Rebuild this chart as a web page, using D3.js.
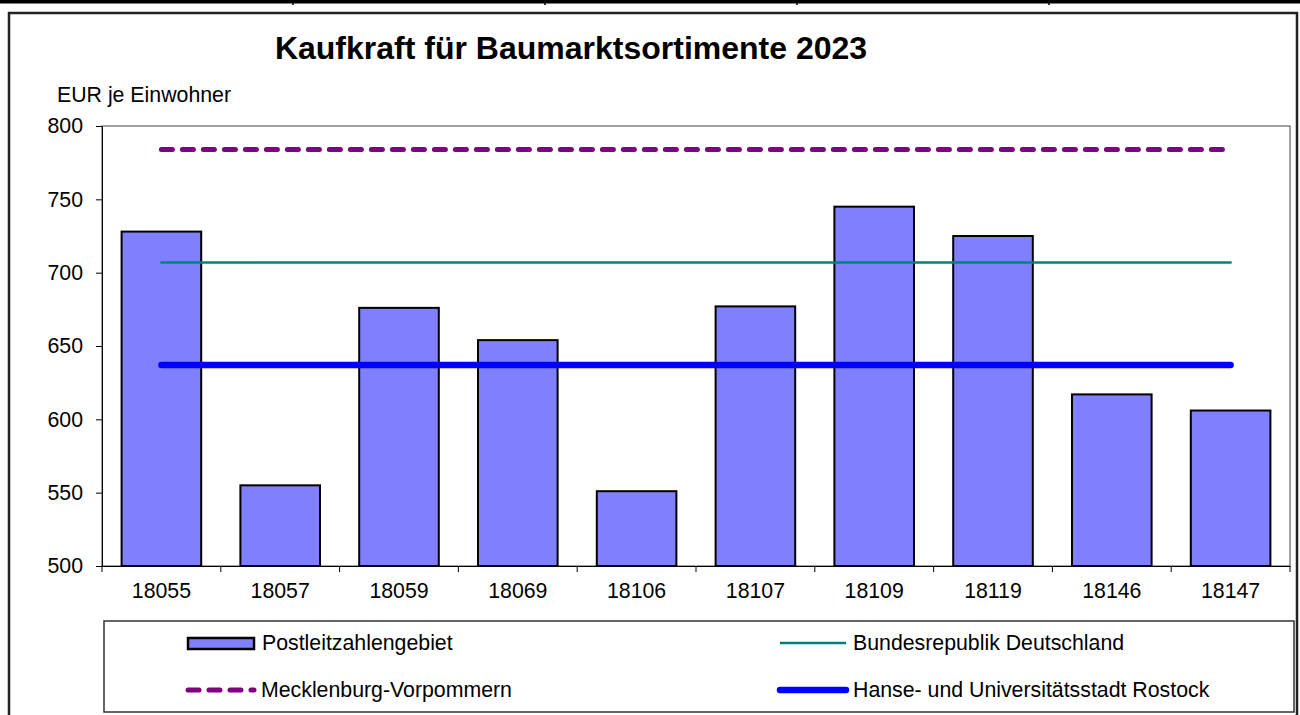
<!DOCTYPE html>
<html>
<head>
<meta charset="utf-8">
<script src="https://cdn.jsdelivr.net/npm/d3@7"></script>
<style>
  body { margin: 0; background: #fff; }
  svg { font-family: "Liberation Sans", Arial, sans-serif; }
</style>
</head>
<body>
<svg id="chart" width="1300" height="715"></svg>
<script>
// Postleitzahlengebiete und Kaufkraft (EUR je Einwohner)
const categories = ["18055", "18057", "18059", "18069", "18106", "18107", "18109", "18119", "18146", "18147"];
const plzValues = [728, 555, 676, 654, 551, 677, 745, 725, 617, 606];
const yTicks = [500, 550, 600, 650, 700, 750, 800];

// Vergleichswerte
const refNames = ["Bundesrepublik Deutschland", "Mecklenburg-Vorpommern", "Hanse- und Universitätsstadt Rostock"];
const refValues = [707, 784, 637];

const svg = d3.select("#chart"),
  margin = {top: 126, left: 102, bottom: 566, right: 1290},
  fs = "21.3px";

// Kopfzeile der Tabelle oberhalb der Grafik
svg.append("rect").attr("x", 0).attr("y", 0).attr("width", 1300).attr("height", 3.5).attr("fill", "#000");
[293, 545, 797, 1049].forEach(x => {
  svg.append("line").attr("x1", x).attr("x2", x).attr("y1", 0).attr("y2", 5)
    .attr("stroke", "#000").attr("stroke-width", 1.5);
});

// Rahmen der Grafik
svg.append("path")
  .attr("d", "M9,716 V13 H1297 V716")
  .attr("fill", "none").attr("stroke", "#222").attr("stroke-width", 2.5);

var x = d3.scaleBand()
  .domain(categories)
  .range([margin.left, margin.right])
  .paddingInner(0.33)
  .paddingOuter(0.165);

var y = d3.scaleLinear()
  .domain([500, 800])
  .range([margin.bottom, margin.top]);

// Plotbereich
svg.append("rect")
  .attr("x", margin.left).attr("y", margin.top)
  .attr("width", margin.right - margin.left).attr("height", margin.bottom - margin.top)
  .attr("fill", "none").attr("stroke", "#444").attr("stroke-width", 1);

svg.append("text")
  .attr("x", 571).attr("y", 59)
  .attr("text-anchor", "middle")
  .style("font-size", "32px").style("font-weight", "bold")
  .text("Kaufkraft für Baumarktsortimente 2023");

svg.append("text")
  .attr("x", 57).attr("y", 102)
  .style("font-size", fs)
  .text("EUR je Einwohner");

// y-Achse
var yAxis = svg.append("g")
  .attr("transform", "translate(" + margin.left + ",0)")
  .call(d3.axisLeft(y).tickValues(yTicks).tickSize(6).tickSizeOuter(0).tickPadding(13));
yAxis.select(".domain").attr("stroke", "#000");
yAxis.selectAll("text").style("font-size", fs).attr("fill", "#000").style("font-family", "inherit");

// x-Achse: Striche an den Kategoriegrenzen
var xAxis = svg.append("g")
  .attr("transform", "translate(0," + margin.bottom + ")")
  .call(d3.axisBottom(x).tickSize(0).tickPadding(17));
xAxis.select(".domain").attr("stroke", "#000");
xAxis.selectAll("text").style("font-size", fs).attr("fill", "#000").style("font-family", "inherit");
xAxis.selectAll(".bound").data(d3.range(categories.length + 1))
  .enter().append("line")
  .attr("x1", i => margin.left + i * x.step())
  .attr("x2", i => margin.left + i * x.step())
  .attr("y1", 0).attr("y2", 6)
  .attr("stroke", "#000");

// Balken
svg.selectAll(".bar").data(plzValues)
  .enter().append("rect")
  .attr("class", "bar")
  .attr("x", (d, i) => x(categories[i]))
  .attr("y", d => y(d))
  .attr("width", x.bandwidth())
  .attr("height", d => y(500) - y(d))
  .attr("fill", "#8080FF")
  .attr("stroke", "#000")
  .attr("stroke-width", 2);

var styles = [
  {color: "#008080", width: 2.5, dash: null},
  {color: "#800080", width: 5, dash: "11,10"},
  {color: "#0000FF", width: 6.5, dash: null}
];

var x0 = x(categories[0]) + x.bandwidth() / 2,
  x1 = x(categories[categories.length - 1]) + x.bandwidth() / 2;

refValues.forEach((v, i) => {
  svg.append("line")
    .attr("x1", x0).attr("x2", x1)
    .attr("y1", y(v)).attr("y2", y(v))
    .attr("stroke", styles[i].color)
    .attr("stroke-width", styles[i].width)
    .attr("stroke-linecap", "round")
    .attr("stroke-dasharray", styles[i].dash);
});

// Legende
svg.append("rect")
  .attr("x", 104).attr("y", 621).attr("width", 1190).attr("height", 91)
  .attr("fill", "none").attr("stroke", "#333").attr("stroke-width", 1.5);

var legend = svg.append("g");
legend.append("rect")
  .attr("x", 188).attr("y", 638).attr("width", 66).attr("height", 11)
  .attr("fill", "#8080FF").attr("stroke", "#000").attr("stroke-width", 2.5);
legend.append("text").attr("x", 262).attr("y", 650).style("font-size", fs).text("Postleitzahlengebiet");

var legendItems = [
  {i: 0, x: 780, y: 643},
  {i: 1, x: 188, y: 690},
  {i: 2, x: 780, y: 690}
];
legendItems.forEach(l => {
  var s = styles[l.i];
  legend.append("line")
    .attr("x1", l.x).attr("x2", l.x + 66)
    .attr("y1", l.y).attr("y2", l.y)
    .attr("stroke", s.color).attr("stroke-width", s.width)
    .attr("stroke-linecap", l.i === 0 ? "butt" : "round")
    .attr("stroke-dasharray", s.dash);
  legend.append("text")
    .attr("x", l.x + 73).attr("y", l.y + 7)
    .style("font-size", fs)
    .text(refNames[l.i]);
});
</script>
</body>
</html>
